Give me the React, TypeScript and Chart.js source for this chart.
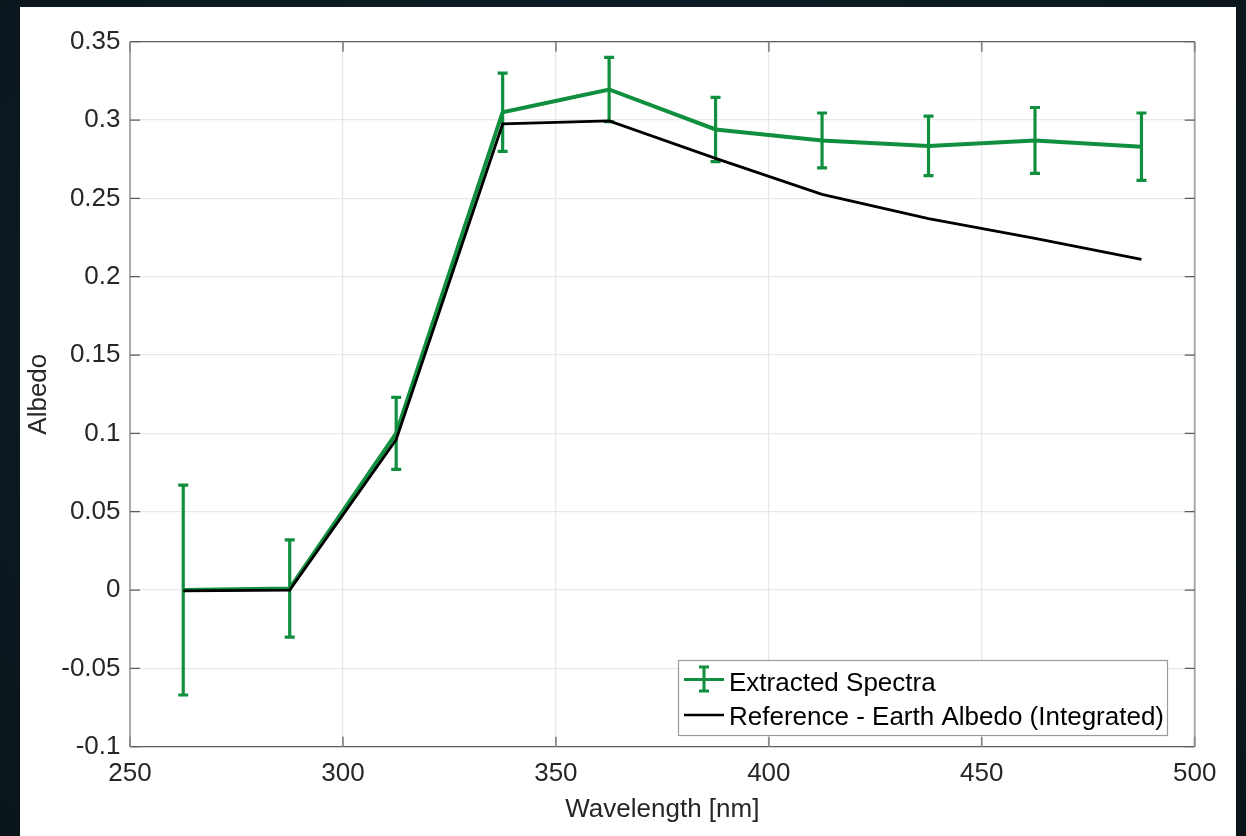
import React, { useEffect, useRef } from 'react';
import { Chart, registerables } from 'chart.js';

Chart.register(...registerables);

// Band centres [nm]
const wavelengths = [262.5, 287.5, 312.5, 337.5, 362.5, 387.5, 412.5, 437.5, 462.5, 487.5];
// Albedo recovered from the observation, with its 1-sigma uncertainty
const extracted = [0.0, 0.001, 0.1, 0.305, 0.3195, 0.294, 0.287, 0.2835, 0.287, 0.283];
const extractedErr = [0.067, 0.031, 0.023, 0.025, 0.0205, 0.0205, 0.0175, 0.019, 0.021, 0.0215];
// Integrated Earth albedo used as reference
const earthAlbedo = [-0.0005, 0.0, 0.096, 0.2975, 0.2995, 0.2755, 0.2525, 0.237, 0.2245, 0.211];

const xTicks = [250, 300, 350, 400, 450, 500];
const yTicks = [-0.1, -0.05, 0, 0.05, 0.1, 0.15, 0.2, 0.25, 0.3, 0.35];

const seriesLabels = ['Extracted Spectra', 'Reference - Earth Albedo (Integrated)'];

const GREEN = '#10903e';
const TEXT = '#262626';
const FONT = '"Liberation Sans", Arial, Helvetica, sans-serif';
const W = 1246;
const H = 836;

const fmt = (v: number) => String(Number(v.toFixed(2)));

// White figure panel behind the axes
const panelPlugin = {
  id: 'panel',
  beforeDraw(chart: any) {
    const ctx = chart.ctx;
    ctx.save();
    ctx.fillStyle = '#ffffff';
    ctx.fillRect(20, 7, 1216, H - 7);
    ctx.restore();
  },
};

// Vertical error bars with caps for the extracted series
const errorBarPlugin = {
  id: 'errorBars',
  afterDatasetDraw(chart: any, args: any) {
    if (args.index !== 0) return;
    const { ctx, scales } = chart;
    const x = scales.x;
    const y = scales.y;
    ctx.save();
    ctx.strokeStyle = GREEN;
    ctx.lineCap = 'butt';
    wavelengths.forEach((w, i) => {
      const px = x.getPixelForValue(w);
      const top = y.getPixelForValue(extracted[i] + extractedErr[i]);
      const bot = y.getPixelForValue(extracted[i] - extractedErr[i]);
      ctx.lineWidth = 3.2;
      ctx.beginPath();
      ctx.moveTo(px, top);
      ctx.lineTo(px, bot);
      ctx.stroke();
      ctx.lineWidth = 3.2;
      ctx.beginPath();
      ctx.moveTo(px - 5, top);
      ctx.lineTo(px + 5, top);
      ctx.moveTo(px - 5, bot);
      ctx.lineTo(px + 5, bot);
      ctx.stroke();
    });
    ctx.restore();
  },
};

// Axes box with inward tick marks on all four sides, plus the legend
const frameLegendPlugin = {
  id: 'frameLegend',
  afterDatasetsDraw(chart: any) {
    const { ctx, chartArea: a, scales } = chart;
    const tl = 10;
    ctx.save();
    // box
    ctx.lineWidth = 1.3;
    ctx.strokeStyle = '#5e5e5e';
    ctx.beginPath();
    ctx.moveTo(a.left, a.top);
    ctx.lineTo(a.right, a.top);
    ctx.moveTo(a.left, a.bottom);
    ctx.lineTo(a.right, a.bottom);
    ctx.stroke();
    ctx.lineWidth = 1.8;
    ctx.strokeStyle = '#a4a4a4';
    ctx.beginPath();
    ctx.moveTo(a.left, a.top);
    ctx.lineTo(a.left, a.bottom);
    ctx.moveTo(a.right, a.top);
    ctx.lineTo(a.right, a.bottom);
    ctx.stroke();
    // ticks
    ctx.lineWidth = 1.3;
    ctx.strokeStyle = '#5e5e5e';
    ctx.beginPath();
    yTicks.forEach((v) => {
      const py = scales.y.getPixelForValue(v);
      ctx.moveTo(a.left, py);
      ctx.lineTo(a.left + tl, py);
      ctx.moveTo(a.right, py);
      ctx.lineTo(a.right - tl, py);
    });
    ctx.stroke();
    ctx.lineWidth = 1.8;
    ctx.strokeStyle = '#8a8a8a';
    ctx.beginPath();
    xTicks.forEach((v) => {
      const px = scales.x.getPixelForValue(v);
      ctx.moveTo(px, a.bottom);
      ctx.lineTo(px, a.bottom - tl);
      ctx.moveTo(px, a.top);
      ctx.lineTo(px, a.top + tl);
    });
    ctx.stroke();

    // legend
    const bx = 678.5;
    const by = 660.5;
    const bw = 489;
    const bh = 75;
    ctx.fillStyle = '#ffffff';
    ctx.fillRect(bx, by, bw, bh);
    ctx.lineWidth = 1.2;
    ctx.strokeStyle = '#9c9c9c';
    ctx.strokeRect(bx, by, bw, bh);

    const ds = chart.data.datasets;
    const sx0 = 684;
    const sx1 = 724;
    const tx = 729;
    // error-bar symbol
    const r1 = 679.5;
    ctx.strokeStyle = GREEN;
    ctx.lineWidth = 3;
    ctx.beginPath();
    ctx.moveTo(sx0, r1);
    ctx.lineTo(sx1, r1);
    ctx.moveTo(704, 667);
    ctx.lineTo(704, 691);
    ctx.moveTo(699, 667);
    ctx.lineTo(709, 667);
    ctx.moveTo(699, 691);
    ctx.lineTo(709, 691);
    ctx.stroke();
    // plain line symbol
    const r2 = 715;
    ctx.strokeStyle = '#000000';
    ctx.lineWidth = 2.5;
    ctx.beginPath();
    ctx.moveTo(sx0, r2);
    ctx.lineTo(sx1, r2);
    ctx.stroke();

    ctx.fillStyle = '#000000';
    ctx.font = `26px ${FONT}`;
    ctx.textAlign = 'left';
    ctx.textBaseline = 'alphabetic';
    ctx.fillText(ds[0].label, tx, 690.5);
    ctx.fillText(ds[1].label, tx, 724.5);
    ctx.restore();
  },
};

export default function App() {
  const ref = useRef<HTMLCanvasElement | null>(null);

  useEffect(() => {
    if (!ref.current) return;
    const chart = new Chart(ref.current, {
      type: 'line',
      data: {
        datasets: [
          {
            label: seriesLabels[0],
            data: wavelengths.map((w, i) => ({ x: w, y: extracted[i] })),
            borderColor: GREEN,
            backgroundColor: GREEN,
            borderWidth: 4,
            pointRadius: 0,
            tension: 0,
            order: 1,
          },
          {
            label: seriesLabels[1],
            data: wavelengths.map((w, i) => ({ x: w, y: earthAlbedo[i] })),
            borderColor: '#000000',
            backgroundColor: '#000000',
            borderWidth: 2.8,
            pointRadius: 0,
            tension: 0,
            order: 0,
          },
        ],
      },
      options: {
        animation: false,
        responsive: false,
        devicePixelRatio: 1,
        layout: { padding: { left: 20, right: W - 1194.7, top: 41.7, bottom: 0 } },
        plugins: {
          legend: { display: false },
          tooltip: { enabled: false },
        },
        scales: {
          x: {
            type: 'linear',
            min: 250,
            max: 500,
            afterBuildTicks: (s: any) => {
              s.ticks = xTicks.map((v) => ({ value: v }));
            },
            ticks: {
              color: TEXT,
              font: { family: FONT, size: 26 },
              padding: 12,
              maxRotation: 0,
              autoSkip: false,
              callback: (v: any) => String(v),
            },
            grid: { color: '#e8e8e8', lineWidth: 1.3, drawTicks: false },
            border: { display: false },
            title: {
              display: true,
              text: 'Wavelength [nm]',
              color: TEXT,
              font: { family: FONT, size: 26 },
              padding: { top: 0, bottom: 11 },
            },
            afterFit: (s: any) => {
              s.height = H - 746.7;
            },
          },
          y: {
            type: 'linear',
            min: -0.1,
            max: 0.35,
            afterBuildTicks: (s: any) => {
              s.ticks = yTicks.map((v) => ({ value: v }));
            },
            ticks: {
              color: TEXT,
              font: { family: FONT, size: 26 },
              padding: 9.5,
              autoSkip: false,
              callback: (v: any) => fmt(Number(v)),
            },
            grid: { color: '#e8e8e8', lineWidth: 1.3, drawTicks: false },
            border: { display: false },
            title: {
              display: true,
              text: 'Albedo',
              color: TEXT,
              font: { family: FONT, size: 26 },
              padding: { top: 3, bottom: 0 },
            },
            afterFit: (s: any) => {
              s.width = 110;
            },
          },
        },
      },
      plugins: [panelPlugin, errorBarPlugin, frameLegendPlugin],
    } as any);
    return () => chart.destroy();
  }, []);

  return (
    <div
      style={{
        position: 'fixed',
        left: 0,
        top: 0,
        width: W,
        height: H,
        background: 'radial-gradient(ellipse at 50% 40%, #132631 0%, #0d1a22 60%, #0a141b 100%)',
      }}
    >
      <canvas ref={ref} width={W} height={H} style={{ display: 'block', width: W, height: H }} />
    </div>
  );
}
